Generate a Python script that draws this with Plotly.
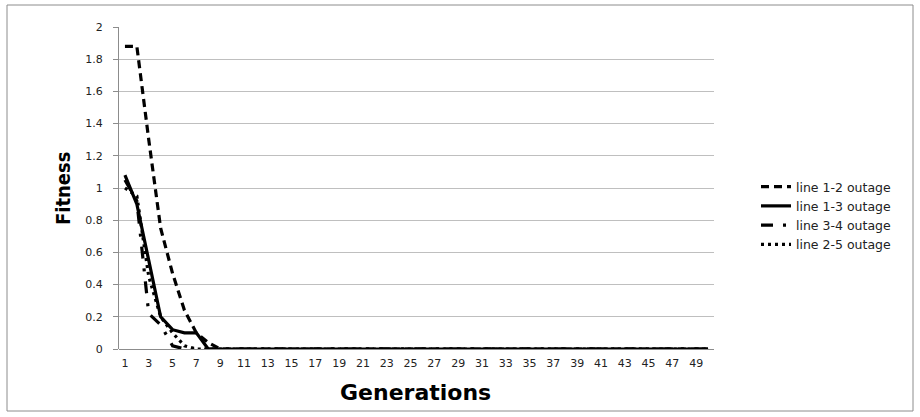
import plotly.graph_objects as go

generations = list(range(1, 51))
tick_labels = [str(g) for g in range(1, 50, 2)]

line_1_2 = [1.88, 1.88, 1.30, 0.75, 0.47, 0.24, 0.10, 0.04, 0, 0,
            0, 0, 0, 0, 0, 0, 0, 0, 0, 0,
            0, 0, 0, 0, 0, 0, 0, 0, 0, 0,
            0, 0, 0, 0, 0, 0, 0, 0, 0, 0,
            0, 0, 0, 0, 0, 0, 0, 0, 0, 0]
line_1_3 = [1.08, 0.90, 0.55, 0.20, 0.12, 0.10, 0.10, 0, 0, 0,
            0, 0, 0, 0, 0, 0, 0, 0, 0, 0,
            0, 0, 0, 0, 0, 0, 0, 0, 0, 0,
            0, 0, 0, 0, 0, 0, 0, 0, 0, 0,
            0, 0, 0, 0, 0, 0, 0, 0, 0, 0]
line_3_4 = [1.05, 0.92, 0.22, 0.15, 0.02, 0, 0, 0, 0, 0,
            0, 0, 0, 0, 0, 0, 0, 0, 0, 0,
            0, 0, 0, 0, 0, 0, 0, 0, 0, 0,
            0, 0, 0, 0, 0, 0, 0, 0, 0, 0,
            0, 0, 0, 0, 0, 0, 0, 0, 0, 0]
line_2_5 = [1.00, 0.95, 0.45, 0.20, 0.10, 0.02, 0, 0, 0, 0,
            0, 0, 0, 0, 0, 0, 0, 0, 0, 0,
            0, 0, 0, 0, 0, 0, 0, 0, 0, 0,
            0, 0, 0, 0, 0, 0, 0, 0, 0, 0,
            0, 0, 0, 0, 0, 0, 0, 0, 0, 0]

series = [
    ("line 1-2 outage", line_1_2, "8px,5px"),
    ("line 1-3 outage", line_1_3, "solid"),
    ("line 3-4 outage", line_3_4, "12px,10px,3px,10px"),
    ("line 2-5 outage", line_2_5, "3px,4px"),
]

fig = go.Figure()
for name, vals, dash in series:
    fig.add_trace(go.Scatter(x=generations, y=vals, mode="lines", name=name,
                             line=dict(color="black", width=3.2, dash=dash)))

L, R, T, B = 119, 206, 27, 68
W, H = 920, 417
pw, ph = W - L - R, H - T - B

def px(xp):
    return (xp - L) / pw

def py(yp):
    return (H - B - yp) / ph

fig.update_layout(
    width=W, height=H,
    margin=dict(l=L, r=R, t=T, b=B, autoexpand=False),
    paper_bgcolor="white", plot_bgcolor="white",
    font=dict(family="DejaVu Sans", size=11, color="#222"),
    showlegend=True,
    legend=dict(x=px(756), xanchor="left", y=py(172), yanchor="top",
                font=dict(family="DejaVu Sans", size=12.5, color="#222"),
                bgcolor="rgba(0,0,0,0)", tracegroupgap=0),
    xaxis=dict(range=[0.5, 50.5], tickmode="array", automargin=False,
               tickvals=list(range(1, 50, 2)), ticktext=tick_labels,
               showgrid=False, zeroline=False, showline=False, ticks="",
               ticklabelstandoff=6,
               tickfont=dict(family="DejaVu Sans", size=11, color="#222")),
    yaxis=dict(range=[0, 2], dtick=0.2, tickformat="~g", automargin=False,
               showgrid=True, gridcolor="#bfbfbf", gridwidth=1,
               zeroline=True, zerolinecolor="#8c8c8c", zerolinewidth=1,
               showline=True, linecolor="#8c8c8c", linewidth=1,
               ticks="outside", ticklen=5, tickcolor="#8c8c8c",
               ticklabelstandoff=8,
               tickfont=dict(family="DejaVu Sans", size=11, color="#222")),
    annotations=[
        dict(text="<b>Generations</b>", xref="paper", yref="paper",
             x=px(415), y=py(392), xanchor="center", yanchor="middle", showarrow=False,
             font=dict(family="DejaVu Sans", size=22, color="black")),
        dict(text="<b>Fitness</b>", xref="paper", yref="paper", textangle=-90,
             x=px(63), y=py(188), xanchor="center", yanchor="middle", showarrow=False,
             font=dict(family="DejaVu Sans Condensed", size=20, color="black")),
    ],
    shapes=[dict(type="rect", xref="paper", yref="paper",
                 x0=px(7), x1=px(913), y0=py(411), y1=py(5),
                 line=dict(color="#8c8c8c", width=1), fillcolor="rgba(0,0,0,0)", layer="below")],
)

fig.write_html("out.html", config={"displayModeBar": False},
               post_script="document.body.style.margin='0';")
